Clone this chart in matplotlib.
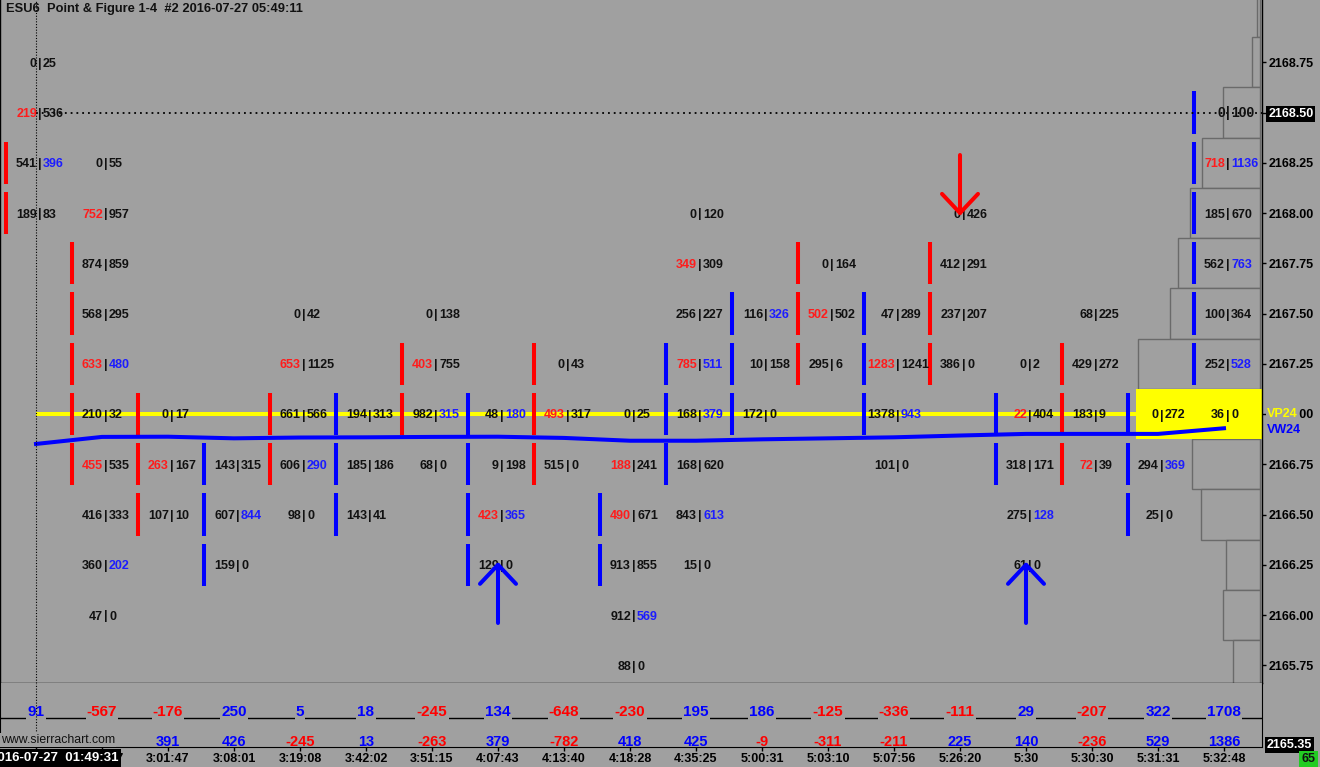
import numpy as np
import matplotlib
matplotlib.use("Agg")
from matplotlib import pyplot as plt
from matplotlib import transforms

# ----------------------------- data -----------------------------
col_top = [2168.75, 2168.25, 2167.00, 2166.75, 2167.50, 2167.00, 2167.50, 2167.00, 2167.25, 2167.00,
           2168.00, 2167.50, 2167.75, 2167.50, 2168.00, 2167.25, 2167.50, 2167.00, 2168.50]

bid_vol = [
    [0, 219, 541, 189],
    [0, 752, 874, 568, 633, 210, 455, 416, 360, 47],
    [0, 263, 107],
    [143, 607, 159],
    [0, 653, 661, 606, 98],
    [194, 185, 143],
    [0, 403, 982, 68],
    [48, 9, 423, 129],
    [0, 493, 515],
    [0, 188, 490, 913, 912, 88],
    [0, 349, 256, 785, 168, 168, 843, 15],
    [116, 10, 172],
    [0, 502, 295],
    [47, 1283, 1378, 101],
    [0, 412, 237, 386],
    [0, 22, 318, 275, 61],
    [68, 429, 183, 72],
    [0, 294, 25],
    [0, 718, 185, 562, 100, 252, 36],
]
ask_vol = [
    [25, 536, 396, 83],
    [55, 957, 859, 295, 480, 32, 535, 333, 202, 0],
    [17, 167, 10],
    [315, 844, 0],
    [42, 1125, 566, 290, 0],
    [313, 186, 41],
    [138, 755, 315, 0],
    [180, 198, 365, 0],
    [43, 317, 0],
    [25, 241, 671, 855, 569, 0],
    [120, 309, 227, 511, 379, 620, 613, 0],
    [326, 158, 0],
    [164, 502, 6],
    [289, 1241, 943, 0],
    [426, 291, 207, 0],
    [2, 404, 171, 128, 0],
    [225, 272, 9, 39],
    [272, 369, 0],
    [100, 1136, 670, 763, 364, 528, 0],
]
# colour of bid / ask number in each cell (k black, r red, b blue)
cell_hl = [
    "kk rk kb kk",
    "kk rk kk kk rb kk rk kk kb kk",
    "kk rk kk",
    "kk kb kk",
    "kk rk kk kb kk",
    "kk kk kk",
    "kk rk kb kk",
    "kb kk rb kk",
    "kk rk kk",
    "kk rk rk kk kb kk",
    "kk rk kk rb kb kk kb kk",
    "kb kk kk",
    "kk rk kk",
    "kk rk kb kk",
    "kk kk kk kk",
    "kk rk kk kb kk",
    "kk kk kk rk",
    "kk kb kk",
    "kk rb kk kb kk kb kk",
]

# point & figure boxes per column
box_dir = "rrrbrbrbrbbbrbrbrbb"
box_low = [2168.00, 2166.75, 2166.50, 2166.25, 2166.75, 2166.50, 2167.00, 2166.25, 2166.75, 2166.25,
           2166.75, 2167.00, 2167.25, 2167.00, 2167.25, 2166.75, 2166.75, 2166.50, 2167.25]
box_high = [2168.25, 2167.75, 2167.00, 2166.75, 2167.00, 2167.00, 2167.25, 2167.00, 2167.25, 2166.50,
            2167.25, 2167.50, 2167.75, 2167.50, 2167.75, 2167.00, 2167.25, 2167.00, 2168.50]

vwap = [2166.851, 2166.886, 2166.887, 2166.879, 2166.883, 2166.884, 2166.886, 2166.887, 2166.881,
        2166.867, 2166.867, 2166.874, 2166.879, 2166.884, 2166.893, 2166.901, 2166.901, 2166.901, 2166.929]

delta = [91, -567, -176, 250, 5, 18, -245, 134, -648, -230, 195, 186, -125, -336, -111, 29, -207, 322, 1708]
delta_2 = [96, -658, 391, 426, -245, 13, -263, 379, -782, 418, 425, -9, -311, -211, 225, 140, -236, 529, 1386]

times = ["01:49:31", "2:55:17", "3:01:47", "3:08:01", "3:19:08", "3:42:02", "3:51:15", "4:07:43", "4:13:40",
         "4:18:28", "4:35:25", "5:00:31", "5:03:10", "5:07:56", "5:26:20", "5:30", "5:30:30", "5:31:31", "5:32:48"]

signal_col = [7, 15, 14]
signal_price = [2166.25, 2166.25, 2168.00]
signal_dir = ["up", "up", "down"]

vp_price = [2169.00, 2168.75, 2168.50, 2168.25, 2168.00, 2167.75, 2167.50,
            2167.25, 2167.00, 2166.75, 2166.50, 2166.25, 2166.00, 2165.75]
vp_volume = [60, 160, 740, 1160, 1400, 1640, 1800, 2440, 2480, 1360, 1180, 680, 740, 540]

poc_price = 2167.00
last_price = 2168.50
start_date = "2016-07-27"
title = "ESU6  Point & Figure 1-4  #2 2016-07-27 05:49:11"

# ----------------------------- style -----------------------------
BG = '#a0a0a0'
RED = '#ff0000'
BLUE = '#0000ff'
TXT = {'k': '#111111', 'r': '#ff1c1c', 'b': '#1c1cff'}
W, H = 1320, 767
PX = 1 / 66.0          # one pixel in column units
PPX = 1 / 201.0        # one pixel in price units
plt.rcParams['font.family'] = ['Liberation Sans', 'DejaVu Sans']

fig = plt.figure(figsize=(W / 100, H / 100), dpi=100, facecolor=BG)

# main chart
ax = fig.add_axes([0, 1 - 683 / H, 1262 / W, 683 / H], facecolor=BG)
x_left, x_right = -5 * PX, 1257 * PX
ax.set_xlim(x_left, x_right)
ax.set_ylim(2167 - 269 * PPX, 2167 + 414 * PPX)
ax.set_xticks([])
for s in ['left', 'right', 'bottom']:
    ax.spines[s].set_color('black')
    ax.spines[s].set_linewidth(1)
ax.spines['top'].set_visible(False)

# volume profile
vmax = max(vp_volume)
vp_w = np.array(vp_volume) / vmax * 124 * PX
vp_right = 1260 * PX - 5 * PX
for p, w in zip(vp_price, vp_w):
    if p == poc_price:
        ax.barh(p, w + 2 * PX, left=vp_right - w, height=0.25, color='#ffff00', edgecolor='none', zorder=2)
    else:
        ax.barh(p, w, left=vp_right - w, height=0.25, color=BG, edgecolor='#6a6a6a', linewidth=1, zorder=1)

# poc line and last price line
ax.hlines(poc_price, 31 * PX, x_right, color='#ffff00', lw=2.9, zorder=1.5)
ax.hlines(last_price, 31 * PX, x_right, color='black', lw=1.3, linestyles=(0, (1, 2.2)), zorder=4)
ax.axvline(31 * PX, color='black', lw=0.8, ls=(0, (1, 1.5)), zorder=4)

# column boxes
for i in range(len(col_top)):
    c = RED if box_dir[i] == 'r' else BLUE
    lv = np.arange(box_low[i], box_high[i] + 0.01, 0.25)
    ax.vlines([i + 0.5 * PX] * len(lv), lv - 0.105, lv + 0.105, colors=c, lw=2.9,
              capstyle='butt', zorder=3)

# vwap line
ax.plot(np.arange(len(vwap)) + 31 * PX, vwap, color=BLUE, lw=2.9, zorder=3.5)

# footprint numbers
for i in range(len(col_top)):
    hl = cell_hl[i].split()
    xc = i + 35 * PX
    for k, (b, a) in enumerate(zip(bid_vol[i], ask_vol[i])):
        p = col_top[i] - 0.25 * k
        fs = 10 if (i == len(col_top) - 1 and p == last_price) else 9
        kw = dict(textcoords='offset pixels', va='baseline', fontsize=fs, fontweight='bold', zorder=5)
        ax.annotate(str(b), (xc, p), xytext=(-3, -4.5), ha='right', color=TXT[hl[k][0]], **kw)
        ax.annotate('|', (xc, p), xytext=(0, -4.5), ha='center', color=TXT['k'], **kw)
        ax.annotate(str(a), (xc, p), xytext=(3, -4.5), ha='left', color=TXT[hl[k][1]], **kw)

# reversal arrows
for ci, sp, sd in zip(signal_col, signal_price, signal_dir):
    c = BLUE if sd == 'up' else RED
    sgn = 1 if sd == 'up' else -1
    xa = ci + 31 * PX
    ax.plot([xa, xa], [sp, sp - sgn * 0.29], color=c, lw=2.9, solid_capstyle='round', zorder=6)
    ax.plot([xa - 18 * PX, xa, xa + 18 * PX], [sp - sgn * 0.095, sp, sp - sgn * 0.095],
            color=c, lw=2.9, solid_capstyle='round', solid_joinstyle='round', zorder=6)

# price scale
ticks = [p for p in vp_price if p <= 2168.75]
ax.yaxis.tick_right()
ax.set_yticks(ticks)
ax.set_yticklabels([f'{p:.2f}' for p in ticks], fontsize=9, fontweight='bold')
ax.tick_params(axis='y', direction='out', length=3, width=1, pad=1.5, colors='black')
for lbl, p in zip(ax.get_yticklabels(), ticks):
    if p == last_price:
        lbl.set_color('white')
        lbl.set_bbox(dict(boxstyle='square,pad=0.15', fc='black', ec='none'))

tr = transforms.blended_transform_factory(ax.transAxes, ax.transData)
ax.text(1 + 5 / 1262, poc_price, 'VP24', transform=tr, color='#ffff00', fontsize=9, fontweight='bold',
        va='center', ha='left', clip_on=False, zorder=7,
        bbox=dict(boxstyle='square,pad=0.1', fc=BG, ec='none'))
ax.text(1 + 5 / 1262, poc_price - 16 * PPX, 'VW24', transform=tr, color=BLUE, fontsize=9, fontweight='bold',
        va='center', ha='left', clip_on=False, zorder=7)

# bottom panel
ax2 = fig.add_axes([0, 20 / H, 1262 / W, 64 / H], facecolor=BG)
ax2.set_xlim(x_left, x_right)
ax2.set_ylim(0, 1)
ax2.set_yticks([])
ax2.spines['top'].set_visible(False)
ax2.spines['bottom'].set_linestyle((0, (1, 1)))
for s in ['left', 'right', 'bottom']:
    ax2.spines[s].set_color('black')
ax2.axhline((747 - 718) / 64, color='black', lw=1, zorder=1)
ax2.axvline(31 * PX, ymin=-20 / 64, ymax=1, color='black', lw=0.8, ls=(0, (1, 1.5)), clip_on=False, zorder=4)

for i, (d1, d2) in enumerate(zip(delta, delta_2)):
    xc = i + 31 * PX
    ax2.text(xc, (747 - 716) / 64, str(d1), ha='center', va='baseline', fontsize=11, fontweight='bold',
             color=BLUE if d1 >= 0 else RED, zorder=3,
             bbox=dict(boxstyle='square,pad=0.08', fc=BG, ec='none'))
    ax2.text(xc, (747 - 745.5) / 64, str(d2), ha='center', va='baseline', fontsize=10.5, fontweight='bold',
             color=BLUE if d2 >= 0 else RED, zorder=3)

ax2.set_xticks(np.arange(len(times)) + 31 * PX)
ax2.set_xticklabels([''] + times[1:], fontsize=9, fontweight='bold')
ax2.tick_params(axis='x', direction='out', length=3, width=1, pad=1.5, colors='black')

# overlay labels
fig.text(6 / W, 1 - 9 / H, title, fontsize=9.3, fontweight='bold', color='#111111', va='center', ha='left')
fig.text(1 / W, 1 - 740 / H, 'www.sierrachart.com', fontsize=8.8, color='#111111', va='center', ha='left',
         bbox=dict(boxstyle='square,pad=0.05', fc=BG, ec='none'))
fig.text(118 / W, 1 - 758 / H, f'{start_date}  {times[0]}', fontsize=9.5, fontweight='bold', color='white',
         va='center', ha='right', bbox=dict(boxstyle='square,pad=0.2', fc='black', ec='none'))
fig.text(1267 / W, 1 - 745 / H, '2165.35', fontsize=9, fontweight='bold', color='white', va='center', ha='left',
         bbox=dict(boxstyle='square,pad=0.15', fc='black', ec='none'))
fig.text(1315 / W, 1 - 759 / H, '65', fontsize=9, fontweight='bold', color='#111111', va='center', ha='right',
         bbox=dict(boxstyle='square,pad=0.2', fc='#22cc22', ec='none'))

fig.savefig('out.png', dpi=100, facecolor=BG)
